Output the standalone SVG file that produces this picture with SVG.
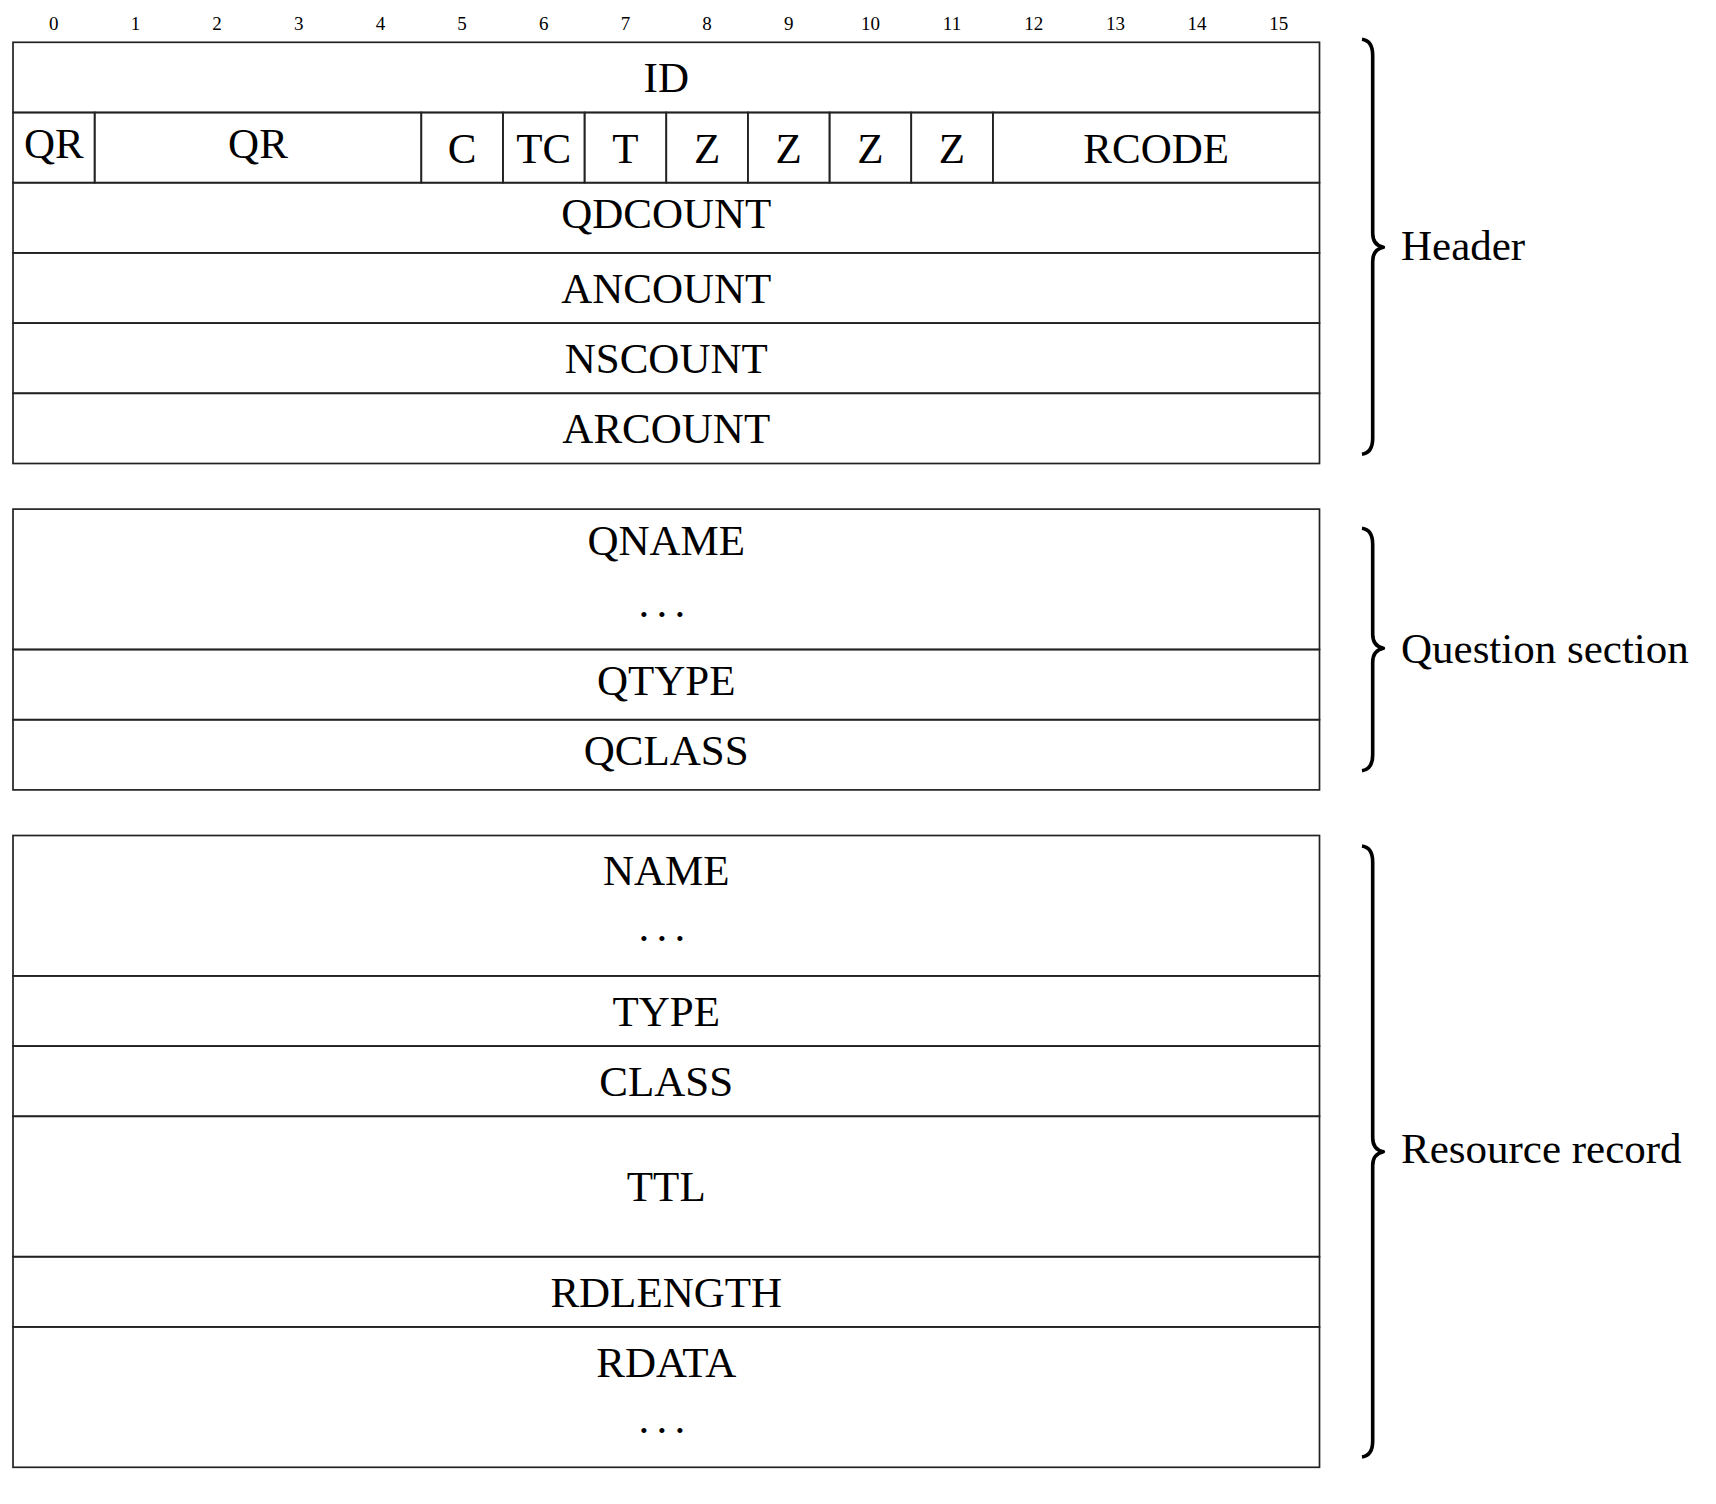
<svg xmlns="http://www.w3.org/2000/svg" width="1716" height="1504" viewBox="0 0 1716 1504">
<style>
  .cell { fill: none; stroke: #222; stroke-width: 1.7; }
  .t { font-family: "Liberation Serif", "DejaVu Serif", serif; font-size: 43px; fill: #000; text-anchor: middle; }
  .bit { font-family: "Liberation Serif", "DejaVu Serif", serif; font-size: 19px; fill: #000; text-anchor: middle; }
  .dots { font-family: "Liberation Serif", "DejaVu Serif", serif; font-size: 43px; fill: #000; }
  .lbl { font-family: "Liberation Serif", "DejaVu Serif", serif; font-size: 43px; fill: #000; }
  .brace { fill: none; stroke: #000; stroke-width: 3.6; stroke-linejoin: round; }
</style>
<rect x="0" y="0" width="1716" height="1504" fill="#fff"/>

<g id="bit-numbers">
  <text class="bit" x="53.8" y="30">0</text>
  <text class="bit" x="135.5" y="30">1</text>
  <text class="bit" x="217.1" y="30">2</text>
  <text class="bit" x="298.8" y="30">3</text>
  <text class="bit" x="380.4" y="30">4</text>
  <text class="bit" x="462.1" y="30">5</text>
  <text class="bit" x="543.8" y="30">6</text>
  <text class="bit" x="625.4" y="30">7</text>
  <text class="bit" x="707.1" y="30">8</text>
  <text class="bit" x="788.7" y="30">9</text>
  <text class="bit" x="870.4" y="30">10</text>
  <text class="bit" x="952.0" y="30">11</text>
  <text class="bit" x="1033.7" y="30">12</text>
  <text class="bit" x="1115.4" y="30">13</text>
  <text class="bit" x="1197.0" y="30">14</text>
  <text class="bit" x="1278.7" y="30">15</text>
</g>

<!-- Header -->
<g id="header">
  <g id="f-id"><rect class="cell" x="13" y="42.3" width="1306.5" height="70.2"/><text class="t" x="666.25" y="92">ID</text></g>
  <g id="f-qr0"><rect class="cell" x="13" y="112.5" width="81.66" height="70.2"/><text class="t" x="53.8" y="158.3">QR</text></g>
  <g id="f-qr1"><rect class="cell" x="94.66" y="112.5" width="326.62" height="70.2"/><text class="t" x="257.97" y="158.3">QR</text></g>
  <g id="f-c"><rect class="cell" x="421.28" y="112.5" width="81.66" height="70.2"/><text class="t" x="462.1" y="162.7">C</text></g>
  <g id="f-tc"><rect class="cell" x="502.94" y="112.5" width="81.65" height="70.2"/><text class="t" x="543.8" y="162.7">TC</text></g>
  <g id="f-t"><rect class="cell" x="584.59" y="112.5" width="81.66" height="70.2"/><text class="t" x="625.4" y="162.7">T</text></g>
  <g id="f-z1"><rect class="cell" x="666.25" y="112.5" width="81.65" height="70.2"/><text class="t" x="707.1" y="162.7">Z</text></g>
  <g id="f-z2"><rect class="cell" x="747.9" y="112.5" width="81.66" height="70.2"/><text class="t" x="788.7" y="162.7">Z</text></g>
  <g id="f-z3"><rect class="cell" x="829.56" y="112.5" width="81.66" height="70.2"/><text class="t" x="870.4" y="162.7">Z</text></g>
  <g id="f-z4"><rect class="cell" x="911.22" y="112.5" width="81.65" height="70.2"/><text class="t" x="952.0" y="162.7">Z</text></g>
  <g id="f-rcode"><rect class="cell" x="992.87" y="112.5" width="326.63" height="70.2"/><text class="t" x="1156.2" y="162.7">RCODE</text></g>
  <g id="f-qdcount"><rect class="cell" x="13" y="182.7" width="1306.5" height="70.2"/><text class="t" x="666.25" y="228.2">QDCOUNT</text></g>
  <g id="f-ancount"><rect class="cell" x="13" y="252.9" width="1306.5" height="70.2"/><text class="t" x="666.25" y="302.9">ANCOUNT</text></g>
  <g id="f-nscount"><rect class="cell" x="13" y="323.1" width="1306.5" height="70.2"/><text class="t" x="666.25" y="373.1">NSCOUNT</text></g>
  <g id="f-arcount"><rect class="cell" x="13" y="393.3" width="1306.5" height="70.2"/><text class="t" x="666.25" y="443.3">ARCOUNT</text></g>
</g>

<!-- Question section -->
<g id="question">
  <g id="f-qname"><rect class="cell" x="13" y="509.1" width="1306.5" height="140.4"/><text class="t" x="666.25" y="554.6">QNAME</text><text class="dots" x="638.6 656.6 674.6" y="616.5">...</text></g>
  <g id="f-qtype"><rect class="cell" x="13" y="649.5" width="1306.5" height="70.2"/><text class="t" x="666.25" y="695">QTYPE</text></g>
  <g id="f-qclass"><rect class="cell" x="13" y="719.7" width="1306.5" height="70.2"/><text class="t" x="666.25" y="765.2">QCLASS</text></g>
</g>

<!-- Resource record -->
<g id="resource">
  <g id="f-name"><rect class="cell" x="13" y="835.5" width="1306.5" height="140.4"/><text class="t" x="666.25" y="885.3">NAME</text><text class="dots" x="638.6 656.6 674.6" y="941.4">...</text></g>
  <g id="f-type"><rect class="cell" x="13" y="975.9" width="1306.5" height="70.2"/><text class="t" x="666.25" y="1025.9">TYPE</text></g>
  <g id="f-class"><rect class="cell" x="13" y="1046.1" width="1306.5" height="70.2"/><text class="t" x="666.25" y="1096.1">CLASS</text></g>
  <g id="f-ttl"><rect class="cell" x="13" y="1116.3" width="1306.5" height="140.4"/><text class="t" x="666.25" y="1200.5">TTL</text></g>
  <g id="f-rdlength"><rect class="cell" x="13" y="1256.7" width="1306.5" height="70.2"/><text class="t" x="666.25" y="1306.7">RDLENGTH</text></g>
  <g id="f-rdata"><rect class="cell" x="13" y="1326.9" width="1306.5" height="140.4"/><text class="t" x="666.25" y="1376.8">RDATA</text><text class="dots" x="638.6 656.6 674.6" y="1433.4">...</text></g>
</g>

<!-- Braces (connectors) -->
<g id="braces">
  <path class="brace" d="M1362,39.3 C1369,40.3 1372.7,45.3 1372.7,55.3 L1372.7,233.3 C1372.7,241.3 1376,245.8 1383.3,247.3 C1376,248.8 1372.7,253.3 1372.7,261.3 L1372.7,438.3 C1372.7,448.3 1369,453.3 1362,454.3"/>
  <path class="brace" d="M1362,528.3 C1369,529.3 1372.7,534.3 1372.7,544.3 L1372.7,634.3 C1372.7,642.3 1376,646.8 1383.3,648.3 C1376,649.8 1372.7,654.3 1372.7,662.3 L1372.7,754.7 C1372.7,764.7 1369,769.7 1362,770.7"/>
  <path class="brace" d="M1362,846 C1369,847 1372.7,852 1372.7,862 L1372.7,1137.7 C1372.7,1145.7 1376,1150.2 1383.3,1151.7 C1376,1153.2 1372.7,1157.7 1372.7,1165.7 L1372.7,1441 C1372.7,1451 1369,1456 1362,1457"/>
</g>

<g id="section-labels">
  <text class="lbl" x="1401" y="260">Header</text>
  <text class="lbl" x="1401" y="663.3">Question section</text>
  <text class="lbl" x="1401" y="1163.3">Resource record</text>
</g>
</svg>
